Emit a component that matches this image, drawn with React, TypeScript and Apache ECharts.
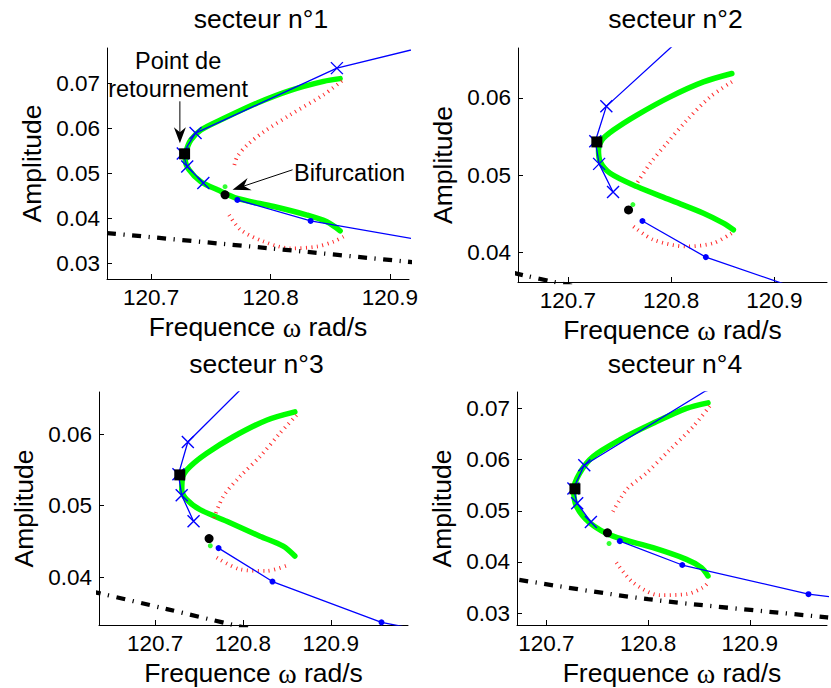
import React, { useEffect, useRef } from 'react';
import * as echarts from 'echarts';

const FONT = '"Liberation Sans", Arial, Helvetica, sans-serif';
const SERIF = '"Liberation Serif", "DejaVu Serif", serif';
const GREEN = '#00ff00';
const RED = '#ff2a2a';
const BLUE = '#0000ff';

// ---------- data ----------
const titles = ['secteur n°1', 'secteur n°2', 'secteur n°3', 'secteur n°4'];
const xTicks = [120.7, 120.8, 120.9];
const yTicks1 = [0.03, 0.04, 0.05, 0.06, 0.07];
const yTicks2 = [0.04, 0.05, 0.06];
const yTicks3 = [0.04, 0.05, 0.06];
const yTicks4 = [0.03, 0.04, 0.05, 0.06, 0.07];

const xRange1 = [120.663, 120.916];
const xRange2 = [120.6516, 120.951];
const xRange3 = [120.636, 120.988];
const xRange4 = [120.671, 120.976];
const yRange1 = [0.0265, 0.0778];
const yRange2 = [0.03618, 0.06645];
const yRange3 = [0.03333, 0.06588];
const yRange4 = [0.02767, 0.07323];

// blue reference branch (same in every sector)
const blueCross = [[121.0, 0.0827], [120.8556, 0.07333], [120.7372, 0.0589], [120.7265, 0.05438], [120.7302, 0.05146], [120.7437, 0.04783]];
const blueDots = [[120.7722, 0.04407], [120.8336, 0.0394], [120.9578, 0.0337], [121.02, 0.0322]];
const turningPoint = [120.728, 0.0543];

// stable branch (green)
const green1 = [[120.8583, 0.0710], [120.8444, 0.0704], [120.8167, 0.0684], [120.7889, 0.0656], [120.7611, 0.0622], [120.7417, 0.0596], [120.7333, 0.0574], [120.7292, 0.0548], [120.7286, 0.0530], [120.7319, 0.0507], [120.7417, 0.0481], [120.7556, 0.0463], [120.7722, 0.0444], [120.8028, 0.0426], [120.8306, 0.0407], [120.8472, 0.0392], [120.8583, 0.0372]];
const green2 = [[120.8588, 0.06315], [120.8313, 0.06206], [120.799, 0.06013], [120.7668, 0.05777], [120.7441, 0.05583], [120.7329, 0.05454], [120.7296, 0.05325], [120.7313, 0.05174], [120.7409, 0.05025], [120.7668, 0.04852], [120.799, 0.0468], [120.8313, 0.04508], [120.8506, 0.04379], [120.8603, 0.04293]];
const green3 = [[120.8591, 0.0631], [120.8269, 0.06194], [120.789, 0.05963], [120.7588, 0.05731], [120.7398, 0.05546], [120.7315, 0.05407], [120.7303, 0.05222], [120.736, 0.05083], [120.7511, 0.04944], [120.7815, 0.04782], [120.8193, 0.04574], [120.8458, 0.04435], [120.8591, 0.04296]];
const green4 = [[120.8589, 0.07111], [120.8377, 0.07002], [120.8048, 0.0671], [120.7721, 0.06385], [120.7458, 0.0606], [120.7327, 0.05737], [120.7268, 0.05412], [120.7295, 0.05088], [120.7426, 0.04765], [120.7655, 0.04504], [120.8048, 0.04278], [120.8377, 0.04051], [120.8524, 0.03889], [120.8589, 0.03726]];

// unstable branch (red dotted), upper and lower parts
const redUp1 = [[120.8597, 0.0705], [120.8444, 0.0674], [120.8167, 0.0630], [120.7944, 0.0592], [120.7806, 0.0563], [120.7722, 0.0537], [120.7694, 0.0515]];
const redLow1 = [[120.7653, 0.0407], [120.775, 0.0374], [120.7944, 0.0348], [120.8167, 0.0333], [120.8389, 0.0337], [120.8528, 0.0348], [120.8611, 0.0359]];
const redUp2 = [[120.8588, 0.06206], [120.8378, 0.06013], [120.8152, 0.05712], [120.7958, 0.05412], [120.7797, 0.05154], [120.7668, 0.04895]];
const redLow2 = [[120.7635, 0.04335], [120.7829, 0.04164], [120.8152, 0.04077], [120.841, 0.04121], [120.8588, 0.0425]];
const redUp3 = [[120.861, 0.06264], [120.842, 0.0601], [120.8193, 0.05685], [120.7966, 0.05407], [120.7776, 0.05129], [120.7663, 0.04806]];
const redLow3 = [[120.7701, 0.04274], [120.7966, 0.04111], [120.8269, 0.04088], [120.8534, 0.04181]];
const redUp4 = [[120.8606, 0.07047], [120.8442, 0.06644], [120.8212, 0.06191], [120.7983, 0.05737], [120.7787, 0.05412], [120.7639, 0.04926]];
const redLow4 = [[120.7688, 0.03986], [120.7852, 0.03597], [120.8114, 0.0335], [120.8377, 0.0337], [120.854, 0.0350], [120.8606, 0.03628]];

// linear response (black dash-dot)
const linear1 = [[120.60, 0.0382], [120.663, 0.0367], [120.8, 0.0333], [120.9125, 0.0304], [121.0, 0.0282]];
const linear2 = [[120.60, 0.0388], [120.6587, 0.0370], [120.686, 0.0362], [120.72, 0.0352]];
const linear3 = [[120.60, 0.0388], [120.636, 0.03778], [120.7133, 0.03556], [120.789, 0.03333], [120.85, 0.0316]];
const linear4 = [[120.60, 0.0390], [120.671, 0.03656], [120.8, 0.03272], [120.976, 0.02916], [121.0, 0.0287]];

const bifurcation = [[120.7619, 0.0452], [120.7587, 0.0455], [120.7614, 0.0454], [120.760, 0.0457]];
const greenDot = [[120.7619, 0.0470], [120.7629, 0.0462], [120.7628, 0.0444], [120.7616, 0.0436]];

// ---------- layout ----------
const GRIDS = [
  { left: 107, top: 48, width: 302, height: 231 },
  { left: 518, top: 48, width: 309, height: 234 },
  { left: 99, top: 392, width: 309, height: 234 },
  { left: 517, top: 392, width: 310, height: 234 },
];
const xRanges = [xRange1, xRange2, xRange3, xRange4];
const yRanges = [yRange1, yRange2, yRange3, yRange4];
const yTicks = [yTicks1, yTicks2, yTicks3, yTicks4];
const greens = [green1, green2, green3, green4];
const redUps = [redUp1, redUp2, redUp3, redUp4];
const redLows = [redLow1, redLow2, redLow3, redLow4];
const linears = [linear1, linear2, linear3, linear4];

function arrow(tail: number[], tip: number[], len = 16, half = 6, notch = 5) {
  const dx = tip[0] - tail[0];
  const dy = tip[1] - tail[1];
  const L = Math.hypot(dx, dy);
  const ux = dx / L, uy = dy / L;
  const px = -uy, py = ux;
  const bx = tip[0] - ux * len, by = tip[1] - uy * len;
  const nx = tip[0] - ux * (len - notch), ny = tip[1] - uy * (len - notch);
  return [
    { type: 'line', z: 100, silent: true, shape: { x1: tail[0], y1: tail[1], x2: nx, y2: ny }, style: { stroke: '#000', lineWidth: 1 } },
    { type: 'polygon', z: 100, silent: true, shape: { points: [tip, [bx + px * half, by + py * half], [nx, ny], [bx - px * half, by - py * half]] }, style: { fill: '#000' } },
  ];
}

function panelSeries(i: number): any[] {
  const base = { type: 'line', xAxisIndex: i, yAxisIndex: i, silent: true, animation: false };
  return [
    { ...base, data: greens[i], symbol: 'none', smooth: 0.3, lineStyle: { color: GREEN, width: 5.5, cap: 'round' }, z: 2 },
    { ...base, data: redUps[i], symbol: 'none', smooth: 0.3, lineStyle: { color: RED, width: 3.8, type: [1, 4.5] }, z: 3 },
    { ...base, data: redLows[i], symbol: 'none', smooth: 0.3, lineStyle: { color: RED, width: 3.8, type: [1, 4.5] }, z: 3 },
    { ...base, data: linears[i], symbol: 'none', smooth: 0.3, lineStyle: { color: '#000', width: 4.3, type: [9, 7.5, 1.2, 7.5] }, z: 3 },
    {
      ...base, data: blueCross, symbol: 'path://M0,0L10,10M10,0L0,10', symbolSize: 12, showSymbol: true,
      lineStyle: { color: BLUE, width: 1.3 }, itemStyle: { color: 'rgba(0,0,0,0)', borderColor: BLUE, borderWidth: 1.4 }, z: 4,
    },
    {
      ...base, data: blueDots, symbol: 'circle', symbolSize: 6, showSymbol: true,
      lineStyle: { color: BLUE, width: 1.3 }, itemStyle: { color: BLUE, borderWidth: 0 }, z: 4,
    },
    { type: 'scatter', xAxisIndex: i, yAxisIndex: i, silent: true, data: [greenDot[i]], symbol: 'circle', symbolSize: 5, itemStyle: { color: GREEN }, z: 5 },
    { type: 'scatter', xAxisIndex: i, yAxisIndex: i, silent: true, data: [bifurcation[i]], symbol: 'circle', symbolSize: 9, itemStyle: { color: '#000', opacity: 1 }, z: 6 },
    { type: 'scatter', xAxisIndex: i, yAxisIndex: i, silent: true, data: [turningPoint], symbol: 'rect', symbolSize: 11, itemStyle: { color: '#000', opacity: 1 }, z: 6 },
  ];
}

export default function App() {
  const ref = useRef<HTMLDivElement>(null);
  useEffect(() => {
    if (!ref.current) return;
    const chart = echarts.init(ref.current, null, { renderer: 'svg' });
    const option: any = {
      animation: false,
      backgroundColor: '#fff',
      grid: GRIDS.map((g) => ({ ...g, containLabel: false })),
      xAxis: GRIDS.map((_, i) => ({
        type: 'value', gridIndex: i, min: xRanges[i][0], max: xRanges[i][1],
        axisLine: { show: true, onZero: false, lineStyle: { color: '#000', width: 1 } },
        axisTick: { show: true, inside: true, length: 5, customValues: xTicks, lineStyle: { color: '#000' } },
        axisLabel: { customValues: xTicks, formatter: (v: number) => v.toFixed(1), fontSize: 22.5, color: '#000', fontFamily: FONT, margin: 7 },
        splitLine: { show: false },
        name: 'Frequence {w|ω} rad/s', nameLocation: 'middle', nameGap: 34,
        nameTextStyle: { fontSize: 26.5, color: '#000', fontFamily: FONT, rich: { w: { fontFamily: SERIF, fontSize: 28, color: '#000' } } },
      })),
      yAxis: GRIDS.map((_, i) => ({
        type: 'value', gridIndex: i, min: yRanges[i][0], max: yRanges[i][1],
        axisLine: { show: true, onZero: false, lineStyle: { color: '#000', width: 1 } },
        axisTick: { show: true, inside: true, length: 5, customValues: yTicks[i], lineStyle: { color: '#000' } },
        axisLabel: { customValues: yTicks[i], formatter: (v: number) => v.toFixed(2), fontSize: 22.5, color: '#000', fontFamily: FONT, margin: 7 },
        splitLine: { show: false },
        name: 'Amplitude', nameLocation: 'middle', nameGap: 62, nameRotate: 90,
        nameTextStyle: { fontSize: 26.5, color: '#000', fontFamily: FONT },
      })),
      series: [0, 1, 2, 3].flatMap((i) => panelSeries(i)),
    };
    chart.setOption(option);

    const sq = chart.convertToPixel({ gridIndex: 0 } as any, turningPoint) as any as number[];
    const bf = chart.convertToPixel({ gridIndex: 0 } as any, bifurcation[0]) as any as number[];
    const tip1 = [sq[0] - 4.7, sq[1] - 10.5];
    const tail1 = [tip1[0], tip1[1] - 42];
    const tip2 = [bf[0] + 7.5, bf[1] - 5];
    const tail2 = [bf[0] + 67.5, bf[1] - 25];

    const titleEls = GRIDS.map((g, i) => ({
      type: 'text', z: 100, silent: true,
      x: g.left + g.width / 2 + 3, y: i < 2 ? 18.5 : 363.5,
      style: { text: titles[i], fontSize: 26.5, fontFamily: FONT, fill: '#000', align: 'center', verticalAlign: 'middle' },
    }));

    chart.setOption({
      graphic: [
        ...titleEls,
        {
          type: 'text', z: 100, silent: true, x: sq[0] - 6.5, y: sq[1] - 79,
          style: { text: 'Point de\nretournement', fontSize: 23.5, lineHeight: 28, fontFamily: FONT, fill: '#000', align: 'center', verticalAlign: 'middle' },
        },
        ...arrow(tail1, tip1),
        {
          type: 'text', z: 100, silent: true, x: tail2[0] + 1.5, y: bf[1] - 22,
          style: { text: 'Bifurcation', fontSize: 23.5, fontFamily: FONT, fill: '#000', align: 'left', verticalAlign: 'middle' },
        },
        ...arrow(tail2, tip2, 18, 6.5, 6),
      ],
    });
    return () => chart.dispose();
  }, []);
  return <div ref={ref} style={{ position: 'absolute', left: 0, top: 0, width: 831, height: 688, background: '#fff' }} />;
}
